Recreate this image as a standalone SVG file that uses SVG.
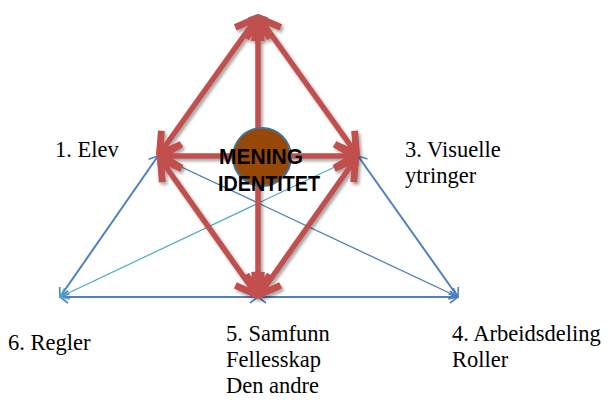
<svg xmlns="http://www.w3.org/2000/svg" width="608" height="400" viewBox="0 0 608 400">
  <style>
    .lbl { font-family: "Liberation Serif", "Times New Roman", serif; font-size: 22.5px; fill: #000; }
    .core { font-family: "Liberation Sans", Arial, sans-serif; font-size: 22px; font-weight: bold; fill: #000; }
    .edge { fill: none; stroke: #4f81bd; stroke-width: 2; marker-start: url(#bArrow); marker-end: url(#bArrow); }
    .diag { fill: none; stroke: #4a7ebb; stroke-width: 1.3; }
    .cyan { fill: none; stroke: #4bacc6; stroke-width: 1.2; marker-start: url(#cArrow); marker-end: url(#cArrow); }
    .red { fill: none; stroke: #c0504d; stroke-width: 5.5; marker-start: url(#rArrow); marker-end: url(#rArrow); }
  </style>
  <defs>
    <marker id="bArrow" markerUnits="userSpaceOnUse" orient="auto-start-reverse" markerWidth="20" markerHeight="20" refX="0" refY="0" viewBox="-12 -10 14 20" overflow="visible">
      <path d="M-8,-6 L0,0 L-8,6" fill="none" stroke="#4f81bd" stroke-width="1.6"/>
    </marker>
    <marker id="dArrow" markerUnits="userSpaceOnUse" orient="auto-start-reverse" markerWidth="20" markerHeight="20" refX="0" refY="0" viewBox="-12 -10 14 20" overflow="visible">
      <path d="M-8,-6 L0,0 L-8,6" fill="none" stroke="#4a7ebb" stroke-width="1.4"/>
    </marker>
    <marker id="cArrow" markerUnits="userSpaceOnUse" orient="auto-start-reverse" markerWidth="20" markerHeight="20" refX="0" refY="0" viewBox="-12 -10 14 20" overflow="visible">
      <path d="M-8,-6 L0,0 L-8,6" fill="none" stroke="#4bacc6" stroke-width="1.4"/>
    </marker>
    <marker id="rArrow" markerUnits="userSpaceOnUse" orient="auto-start-reverse" markerWidth="40" markerHeight="40" refX="0" refY="0" viewBox="-24 -16 28 32" overflow="visible">
      <path d="M-18,-9.5 L-2,0 L-18,9.5" fill="none" stroke="#c0504d" stroke-width="5.5" stroke-linejoin="round"/>
    </marker>
    <filter id="shadow" x="-20%" y="-20%" width="140%" height="140%">
      <feDropShadow dx="2" dy="2.5" stdDeviation="1.5" flood-color="#000" flood-opacity="0.35"/>
    </filter>
  </defs>

  <!-- connectors -->
  <g id="connectors">
    <!-- outer triangle, split at the mid points -->
    <line class="edge" x1="258" y1="15" x2="158" y2="156"/>
    <line class="edge" x1="158" y1="156" x2="60" y2="297"/>
    <line class="edge" x1="258" y1="15" x2="358" y2="156"/>
    <line class="edge" x1="358" y1="156" x2="458" y2="297"/>
    <line class="edge" x1="60" y1="297" x2="258" y2="297"/>
    <line class="edge" x1="258" y1="297" x2="458" y2="297"/>
    <!-- cross lines -->
    <line class="diag" x1="158" y1="156" x2="458" y2="297" marker-end="url(#dArrow)"/>
    <line class="cyan" x1="60" y1="297" x2="358" y2="156"/>
    <!-- thick two-way arrows round the centre -->
    <g filter="url(#shadow)">
      <line class="red" x1="258" y1="16" x2="158" y2="156"/>
      <line class="red" x1="258" y1="16" x2="358" y2="156"/>
      <line class="red" x1="258" y1="16" x2="258" y2="297"/>
      <line class="red" x1="159" y1="156" x2="357" y2="156"/>
      <line class="red" x1="159" y1="157" x2="258" y2="297"/>
      <line class="red" x1="357" y1="157" x2="258" y2="297"/>
    </g>
  </g>

  <!-- centre -->
  <g id="center">
    <circle cx="262" cy="157" r="29" fill="#974806" stroke="#41719c" stroke-width="2"/>
    <text class="core" x="219" y="164" textLength="84" lengthAdjust="spacingAndGlyphs">MENING</text>
    <text class="core" x="218" y="191" textLength="102" lengthAdjust="spacingAndGlyphs">IDENTITET</text>
  </g>

  <g id="elev">
    <text class="lbl" x="55" y="157">1. Elev</text>
  </g>
  <g id="visuelle">
    <text class="lbl" x="405" y="157">3. Visuelle</text>
    <text class="lbl" x="405" y="183">ytringer</text>
  </g>
  <g id="regler">
    <text class="lbl" x="8" y="350">6. Regler</text>
  </g>
  <g id="samfunn">
    <text class="lbl" x="226" y="341">5. Samfunn</text>
    <text class="lbl" x="226" y="367">Fellesskap</text>
    <text class="lbl" x="226" y="393">Den andre</text>
  </g>
  <g id="arbeidsdeling">
    <text class="lbl" x="452" y="341">4. Arbeidsdeling</text>
    <text class="lbl" x="452" y="367">Roller</text>
  </g>
</svg>
